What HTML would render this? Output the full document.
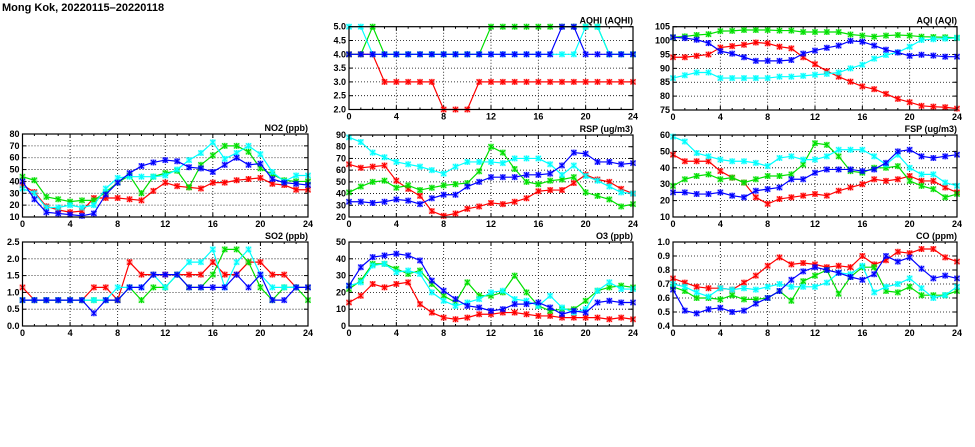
<!DOCTYPE html>
<html><head><meta charset="utf-8"><style>
html,body{margin:0;padding:0;background:#fff;width:975px;height:447px;overflow:hidden}
svg{display:block}
text{font-family:"Liberation Sans",sans-serif;font-weight:bold;font-size:9px;fill:#000}
</style></head><body>
<svg id="s" width="975" height="447" xmlns="http://www.w3.org/2000/svg">
<text x="2" y="11" style="font-size:11px">Mong Kok, 20220115–20220118</text>
</svg>
<script>
const S=document.getElementById('s');const NS='http://www.w3.org/2000/svg';
function el(t,a,txt){const e=document.createElementNS(NS,t);for(const k in a)e.setAttribute(k,a[k]);if(txt!==undefined)e.textContent=txt;S.appendChild(e);return e;}
const cols=['#ff0000','#00e000','#00ffff','#0000ff'];
const P=[
{t:'AQHI (AQHI)',x0:349,x1:633,y0:26.7,y1:109.5,lo:2,hi:5,st:0.5,d:1,
s:[[4,4,4,3,3,3,3,3,2,2,2,3,3,3,3,3,3,3,3,3,3,3,3,3,3],
[4,4,5,4,4,4,4,4,4,4,4,4,5,5,5,5,5,5,5,5,5,5,4,4,4],
[5,5,4,4,4,4,4,4,4,4,4,4,4,4,4,4,4,4,4,4,5,5,4,4,4],
[4,4,4,4,4,4,4,4,4,4,4,4,4,4,4,4,4,4,5,5,4,4,4,4,4]]},
{t:'AQI (AQI)',x0:673,x1:957,y0:26.7,y1:110,lo:75,hi:105,st:5,d:0,
s:[[94,94,94.5,95,97.5,98,98.5,99.3,99,97.8,97.2,94,91.5,89,87,85.2,83.5,82.5,80.8,79,77.8,76.5,76.2,76,75.5],
[101.2,101.5,102,102.3,103.4,103.5,103.8,103.8,103.8,103.6,103.6,103.1,103.1,103.1,103.1,102.2,101.8,101.4,101.8,102,101.8,101.4,101.3,101.2,101],
[86.5,87.5,88.5,88.5,86.5,86.5,86.5,86.5,86.5,87,87,87.3,87.7,88,88.5,90,91.3,93.5,94.8,95.8,97.8,100.2,100.5,100.7,101],
[101.2,100.9,100.3,99.1,96.2,95.3,94,92.7,92.7,92.7,93,95.3,96.4,97.4,98.2,99.9,99.6,98.2,96.7,95.7,94.5,94.9,94.6,94.2,94.2]]},
{t:'NO2 (ppb)',x0:22.5,x1:308,y0:134,y1:217,lo:10,hi:80,st:10,d:0,
s:[[37,31,19,16,14,15,26,26,26,25,24,32,39,36,35,34,39,39,41,42,43,38,37,33,33],
[44,41,27,25,23,24,24,31,39,45,30,44,47,49,35,54,62,70,70,65,51,46,41,40,40],
[34,30,18,18,20,18,20,34,43,44,44,44,45,50,58,64,73,59,64,70,63,48,40,45,45],
[40,25,14,13,12,11,13,29,39,47,53,56,58,57,52,51,48,54,60,54,55,42,39,38,37]]},
{t:'RSP (ug/m3)',x0:349,x1:633,y0:135,y1:217,lo:20,hi:90,st:10,d:0,
s:[[65,62,63,64,51,44,38,25,21,23,27,29,32,31,33,36,42,43,43,49,56,52,50,44,40],
[41,46,50,51,45,47,43,45,47,48,49,59,80,75,61,50,48,51,52,54,41,38,35,29,31],
[88,84,75,71,67,65,63,60,57,63,67,67,67,66,70,70,70,65,56,64,55,51,46,41,40],
[33,33,32,33,35,34,31,36,39,39,46,50,54,54,54,56,56,57,64,75,74,67,67,65,66]]},
{t:'FSP (ug/m3)',x0:673,x1:957,y0:135,y1:217,lo:10,hi:60,st:10,d:0,
s:[[48,44,44,44,38,34,31,22,18,21,22,23,24,23,26,28,30,33,32,33,35,32,32,28,25],
[29,33,35,36,33,34,31,33,35,35,36,42,55,54,47,38,37,40,40,41,32,29,27,22,24],
[59,56,49,47,45,44,44,43,41,46,47,45,45,47,51,51,51,47,42,48,40,36,36,31,29],
[25,25,24,24,25,23,22,26,27,28,33,33,37,39,39,39,38,39,43,50,51,47,46,47,48]]},
{t:'SO2 (ppb)',x0:22.5,x1:308,y0:242,y1:326,lo:0,hi:2.5,st:0.5,d:1,
s:[[1.15,.77,.77,.77,.77,.77,1.15,1.15,.77,1.9,1.53,1.53,1.53,1.53,1.53,1.53,1.9,1.53,1.53,1.9,1.9,1.53,1.53,1.15,1.15],
[.77,.77,.77,.77,.77,.77,.77,.77,.77,1.15,.77,1.15,1.15,1.53,1.15,1.15,1.53,2.28,2.28,1.9,1.15,.77,1.15,1.15,.77],
[.77,.77,.77,.77,.77,.77,.77,.77,1.15,1.15,1.15,1.53,1.15,1.53,1.9,1.9,2.28,1.15,1.9,2.28,1.53,1.15,1.15,1.15,1.15],
[.77,.77,.77,.77,.77,.77,.38,.77,.77,1.15,1.15,1.53,1.53,1.53,1.15,1.15,1.15,1.15,1.53,1.15,1.53,.77,.77,1.15,1.15]]},
{t:'O3 (ppb)',x0:349,x1:633,y0:242,y1:326,lo:0,hi:50,st:10,d:0,
s:[[14,18,25,23,25,26,13,8,5,4,5,7,7,8,8,7,6,6,5,5,5,5,4,5,4],
[22,27,37,37,34,31,33,25,18,14,26,18,18,20,30,20,12,9,10,10,15,21,23,24,23],
[24,26,36,37,32,33,31,20,15,12,14,16,20,21,16,15,12,18,11,8,10,21,26,22,22],
[24,35,41,42,43,42,39,27,21,16,12,11,9,10,13,13,14,11,7,9,8,14,15,14,14]]},
{t:'CO (ppm)',x0:673,x1:957,y0:242,y1:326,lo:0.4,hi:1.0,st:0.1,d:1,
s:[[.74,.71,.68,.67,.67,.66,.71,.76,.83,.89,.84,.85,.84,.82,.83,.82,.90,.84,.87,.93,.92,.95,.95,.89,.86],
[.68,.65,.60,.60,.59,.62,.59,.59,.60,.65,.58,.72,.76,.80,.63,.75,.82,.82,.65,.64,.68,.62,.62,.62,.65],
[.70,.68,.64,.61,.67,.66,.67,.66,.68,.70,.68,.68,.68,.71,.78,.77,.83,.64,.68,.70,.74,.67,.60,.62,.68],
[.66,.51,.49,.52,.53,.50,.51,.56,.60,.65,.73,.79,.82,.80,.78,.75,.73,.77,.90,.86,.89,.81,.74,.76,.74]]}
];
for(const p of P){
 const X=h=>p.x0+(p.x1-p.x0)*h/24, Y=v=>p.y1-(p.y1-p.y0)*(v-p.lo)/(p.hi-p.lo);
 const n=Math.round((p.hi-p.lo)/p.st);
 for(let i=0;i<=n;i++){const v=p.lo+i*p.st,y=Y(v);
  if(i>0&&i<n)el('line',{x1:p.x0,x2:p.x1,y1:y,y2:y,stroke:'#000','stroke-width':0.8,'stroke-dasharray':'1,2'});
  el('line',{x1:p.x0,x2:p.x0+4,y1:y,y2:y,stroke:'#000'});el('line',{x1:p.x1-4,x2:p.x1,y1:y,y2:y,stroke:'#000'});
  el('text',{x:p.x0-3,y:y+3,'text-anchor':'end'},v.toFixed(p.d));}
 for(let h=0;h<=24;h++){const x=X(h);const L=h%4==0?4:2;
  el('line',{x1:x,x2:x,y1:p.y1,y2:p.y1-L,stroke:'#000'});el('line',{x1:x,x2:x,y1:p.y0,y2:p.y0+L,stroke:'#000'});
  if(h%4==0){if(h>0&&h<24)el('line',{x1:x,x2:x,y1:p.y0,y2:p.y1,stroke:'#000','stroke-width':0.8,'stroke-dasharray':'1,2'});
   el('text',{x:x,y:p.y1+10,'text-anchor':'middle'},String(h));}}
 el('text',{x:p.x1,y:p.y0-3,'text-anchor':'end'},p.t);
 p.s.forEach((d,k)=>{const c=cols[k];
  el('polyline',{points:d.map((v,h)=>X(h)+','+Y(v)).join(' '),fill:'none',stroke:c,'stroke-width':1.2});
  d.forEach((v,h)=>{const x=X(h),y=Y(v);
   el('rect',{x:x-3,y:y-3,width:6,height:6,fill:c,opacity:0.35});
   el('path',{d:`M${x-2.5} ${y-2.5}L${x+2.5} ${y+2.5}M${x-2.5} ${y+2.5}L${x+2.5} ${y-2.5}M${x} ${y-3}L${x} ${y+3}`,stroke:c,'stroke-width':1.1});});});
 el('rect',{x:p.x0,y:p.y0,width:p.x1-p.x0,height:p.y1-p.y0,fill:'none',stroke:'#000','stroke-width':1.2});
}
</script>
</body></html>
